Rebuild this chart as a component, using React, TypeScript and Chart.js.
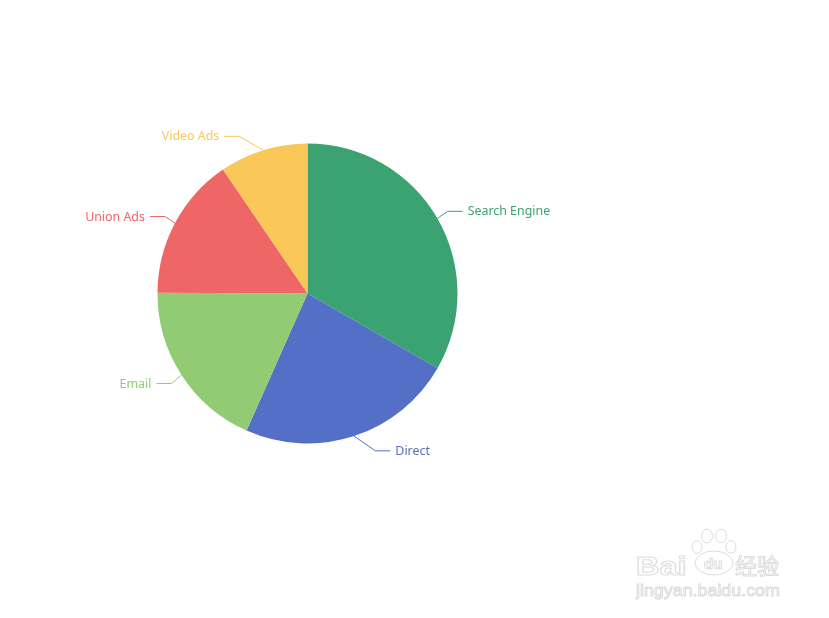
import React, { useEffect, useRef } from "react";
import { Chart, registerables } from "chart.js";

Chart.register(...registerables);

// Traffic sources
const categories = ["Search Engine", "Direct", "Email", "Union Ads", "Video Ads"];
const visits = [1048, 735, 580, 484, 300];
const sliceColors = ["#3ba272", "#5470c6", "#91cc75", "#ee6666", "#fac858"];

const LABEL_FONT = '12.4px "Noto Sans", "DejaVu Sans", sans-serif';

// Outside labels with elbow leader lines, laid out on an ellipse around the pie
const outsideLabels = {
  id: "outsideLabels",
  afterDatasetsDraw(chart: any) {
    const ctx = chart.ctx as CanvasRenderingContext2D;
    const meta = chart.getDatasetMeta(0);
    const labels = chart.data.labels as string[];
    const colors = chart.data.datasets[0].backgroundColor as string[];
    ctx.save();
    meta.data.forEach((arc: any, i: number) => {
      const { x, y, startAngle, endAngle, outerRadius: r } = arc.getProps(
        ["x", "y", "startAngle", "endAngle", "outerRadius"],
        true
      );
      const mid = (startAngle + endAngle) / 2;
      const cos = Math.cos(mid);
      const sin = Math.sin(mid);
      const side = cos >= 0 ? 1 : -1;
      const ex = x + r * cos;
      const ey = y + r * sin;
      const ky = y + (r + 15) * sin + 0.5;
      const rA = r + 9;
      const rB = r + 24;
      const t = (ky - y) / rB;
      const kx = x + side * rA * Math.sqrt(Math.max(0, 1 - t * t));
      const hx = kx + side * 15;
      ctx.strokeStyle = colors[i];
      ctx.lineWidth = 1;
      ctx.beginPath();
      ctx.moveTo(ex, ey);
      ctx.lineTo(kx, ky);
      ctx.lineTo(hx, ky);
      ctx.stroke();
      ctx.fillStyle = colors[i];
      ctx.font = LABEL_FONT;
      ctx.textBaseline = "middle";
      ctx.textAlign = side > 0 ? "left" : "right";
      ctx.fillText(labels[i], hx + side * 5, ky + 0.5);
    });
    ctx.restore();
  },
};

// Faint site mark in the lower right corner
const siteMark = {
  id: "siteMark",
  afterDraw(chart: any) {
    const ctx = chart.ctx as CanvasRenderingContext2D;
    ctx.save();
    ctx.strokeStyle = "#dcdcdc";
    ctx.lineWidth = 1;
    ctx.textBaseline = "alphabetic";
    ctx.textAlign = "left";

    ctx.save();
    ctx.translate(636, 575);
    ctx.scale(1.3, 1);
    ctx.font = 'bold 25px "Liberation Sans", sans-serif';
    ctx.strokeText("Bai", 0, 0);
    ctx.restore();

    // paw
    ctx.beginPath();
    ctx.ellipse(714, 563, 19, 12, 0, 0, Math.PI * 2);
    ctx.stroke();
    const toes = [
      [697, 547, 5],
      [707, 536, 5.5],
      [721, 536, 5.5],
      [731, 547, 5],
    ];
    toes.forEach(([tx, ty, tr]) => {
      ctx.beginPath();
      ctx.ellipse(tx, ty, tr, tr * 1.25, 0, 0, Math.PI * 2);
      ctx.stroke();
    });
    ctx.font = 'bold 15px "Liberation Sans", sans-serif';
    ctx.strokeText("du", 704, 569);

    ctx.font = '22px "Noto Sans CJK SC", sans-serif';
    ctx.strokeText("经验", 735, 574);

    ctx.save();
    ctx.translate(636, 596);
    ctx.scale(1.05, 1);
    ctx.font = '17px "Liberation Sans", sans-serif';
    ctx.strokeText("jingyan.baidu.com", 0, 0);
    ctx.restore();

    ctx.restore();
  },
};

export default function App() {
  const canvasRef = useRef<HTMLCanvasElement | null>(null);

  useEffect(() => {
    if (!canvasRef.current) return;
    const chart = new Chart(canvasRef.current, {
      type: "pie",
      data: {
        labels: categories,
        datasets: [
          {
            data: visits,
            backgroundColor: sliceColors,
            borderWidth: 0,
            hoverOffset: 0,
          },
        ],
      },
      options: {
        responsive: false,
        animation: false,
        layout: { padding: { left: 157.5, right: 371.5, top: 143.5, bottom: 174.5 } },
        plugins: {
          legend: { display: false },
          tooltip: { enabled: false },
        },
      },
      plugins: [outsideLabels, siteMark],
    });
    return () => chart.destroy();
  }, []);

  return (
    <div style={{ position: "fixed", left: 0, top: 0, width: 829, height: 618, background: "#fff" }}>
      <canvas ref={canvasRef} width={829} height={618} />
    </div>
  );
}
